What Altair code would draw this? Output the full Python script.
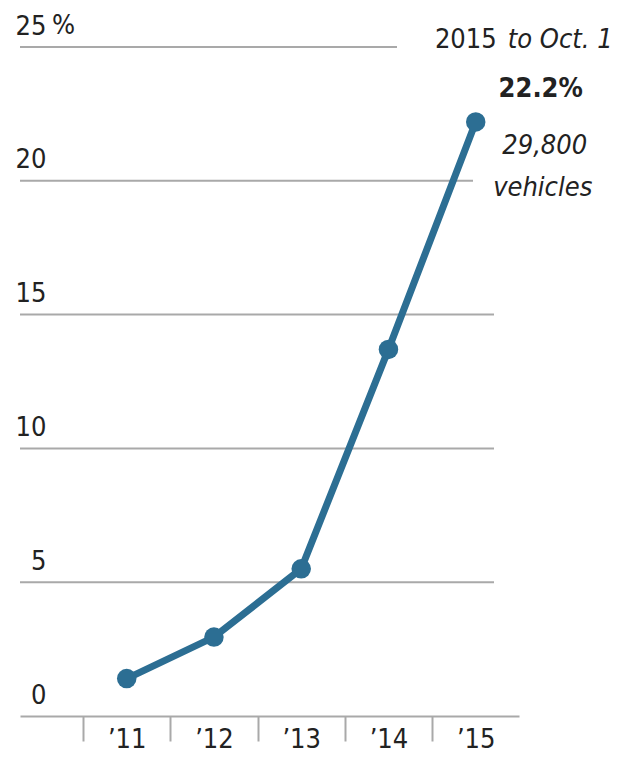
import altair as alt
import pandas as pd

# ---- data ----
YEARS = [2011, 2012, 2013, 2014, 2015]
SHARE = [1.4, 2.95, 5.5, 13.7, 22.2]
Y_TICKS = [0, 5, 10, 15, 20, 25]
ANNOT_TOP = ["2015", "to Oct. 1"]
ANNOT_VALUE = ["22.2%"]
ANNOT_COUNT = ["29,800", "vehicles"]

FONT = "Liberation Sans Narrow, DejaVu Sans Condensed, Roboto, sans-serif"
LINE_COLOR = "#2c6e93"
GRID_COLOR = "#a9a9a9"
TEXT_COLOR = "#222222"
FS = 27

W, H = 499, 669
X_DOMAIN = [2009.777, 2015.496]
PX_PER_YEAR = W / (X_DOMAIN[1] - X_DOMAIN[0])

df = pd.DataFrame({"year": YEARS, "share": SHARE})

x_scale = alt.Scale(domain=X_DOMAIN, nice=False, zero=False)
y_scale = alt.Scale(domain=[0, 25], nice=False)

x_axis = alt.Axis(
    values=YEARS,
    labelExpr="'\u2019' + substring(toString(datum.value), 2)",
    grid=False,
    domain=True, domainColor=GRID_COLOR, domainWidth=2,
    ticks=True, tickColor=GRID_COLOR, tickWidth=2, tickSize=25,
    tickOffset=-PX_PER_YEAR / 2, labelOffset=PX_PER_YEAR / 2,
    labelFont=FONT, labelFontSize=FS, labelColor=TEXT_COLOR,
    labelBaseline="alphabetic", labelPadding=6,
    title=None,
)
y_axis = alt.Axis(
    values=Y_TICKS,
    grid=False, domain=False, ticks=False,
    labelAlign="right", labelPadding=-26, labelOffset=-13,
    labelBaseline="alphabetic",
    labelFont=FONT, labelFontSize=FS, labelColor=TEXT_COLOR,
    title=None,
)

base = alt.Chart(df)

# gridlines (lengths differ to make room for the annotation)
grid_ends = {5: 474, 10: 474, 15: 474, 20: 453, 25: 377}
grid_layers = []
for i, v in enumerate(Y_TICKS[1:]):
    grid_layers.append(
        alt.Chart(pd.DataFrame({"share": [v]}))
        .mark_rule(color=GRID_COLOR, strokeWidth=2)
        .encode(y=alt.Y("share:Q", scale=y_scale, axis=y_axis if i == 0 else alt.Undefined),
                x=alt.value(0), x2=alt.value(grid_ends[v]))
    )

pct = (
    alt.Chart(pd.DataFrame({"share": [25], "t": ["%"]}))
    .mark_text(font=FONT, fontSize=FS, color=TEXT_COLOR, align="left",
               baseline="alphabetic", dx=2, dy=-13)
    .encode(y=alt.Y("share:Q", scale=y_scale), x=alt.value(30), text="t:N")
)

line = base.mark_line(color=LINE_COLOR, strokeWidth=7).encode(
    x=alt.X("year:Q", scale=x_scale, axis=x_axis),
    y=alt.Y("share:Q", scale=y_scale),
)
points = base.mark_point(filled=True, color=LINE_COLOR, size=380, opacity=1).encode(
    x=alt.X("year:Q", scale=x_scale),
    y=alt.Y("share:Q", scale=y_scale),
)

last = pd.DataFrame({"year": [YEARS[-1]], "share": [SHARE[-1]]})

def annot(text, dx, dy, align, style="normal", weight="normal"):
    d = last.assign(t=[text])
    return (
        alt.Chart(d)
        .mark_text(font=FONT, fontSize=FS, color=TEXT_COLOR, align=align,
                   baseline="alphabetic", dx=dx, dy=dy,
                   fontStyle=style, fontWeight=weight)
        .encode(x=alt.X("year:Q", scale=x_scale),
                y=alt.Y("share:Q", scale=y_scale),
                text="t:N")
    )

annots = [
    annot(ANNOT_TOP[0], 21, -74, "right"),
    annot(ANNOT_TOP[1], 32, -74, "left", style="italic"),
    annot(ANNOT_VALUE[0], 65, -25, "center", weight="bold"),
    annot(ANNOT_COUNT[0], 69, 32, "center", style="italic"),
    annot(ANNOT_COUNT[1], 67, 74, "center", style="italic"),
]

chart = alt.layer(*grid_layers, pct, line, points, *annots).properties(
    width=W, height=H,
    autosize=alt.AutoSizeParams(type="none"),
    padding={"left": 12, "top": 39, "right": 95, "bottom": 40},
).configure_view(stroke=None)

chart.save("out.html", embed_options={"renderer": "svg", "actions": False})
